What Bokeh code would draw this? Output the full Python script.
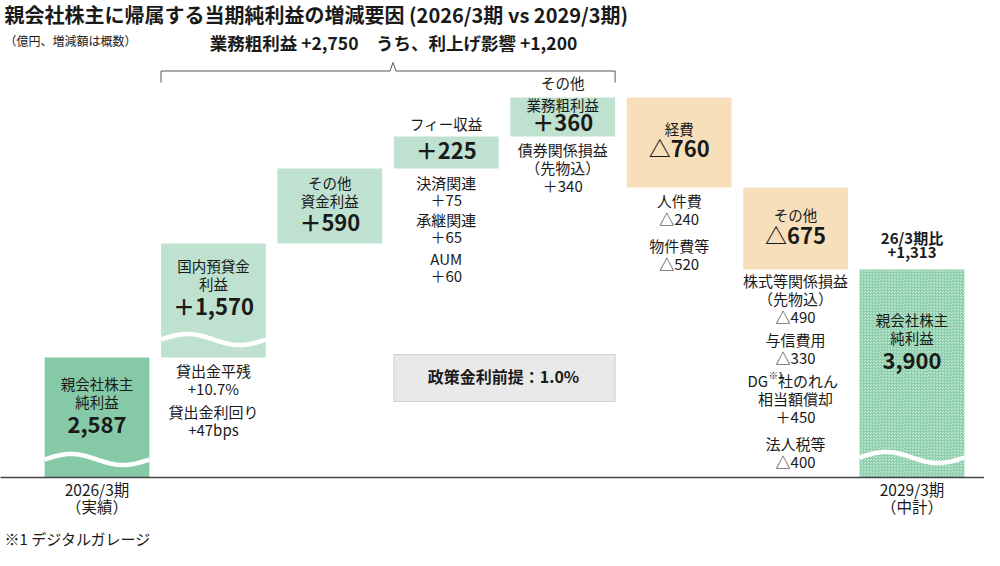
import numpy as np
from bokeh.plotting import figure
from bokeh.models import Range1d, ColumnDataSource
from bokeh.core.properties import value
from bokeh.embed import file_html
from bokeh.resources import INLINE

FONT = value("Noto Sans CJK JP")

# ---------------- data ----------------
categories = ["2026/3期（実績）", "国内預貸金利益", "その他資金利益", "フィー収益",
              "その他業務粗利益", "経費", "その他", "2029/3期（中計）"]
kinds = ["total", "up", "up", "up", "up", "down", "down", "total"]
values = [2587, 1570, 590, 225, 360, -760, -675, 3900]
# heights as drawn in the reference (broken axis, not to scale)
drawn_heights = [120, 114, 75, 32, 39, -90, -82, 208]
value_labels = ["2,587", "＋1,570", "＋590", "＋225", "＋360", "△760", "△675", "3,900"]
name_lines = [["親会社株主", "純利益"], ["国内預貸金", "利益"], ["その他", "資金利益"], [],
              ["業務粗利益"], ["経費"], ["その他"], ["親会社株主", "純利益"]]
above_lines = [[], [], [], ["フィー収益"], ["その他"], [], [], ["26/3期比", "+1,313"]]
detail_groups = [
    [],
    [["貸出金平残", "+10.7%"], ["貸出金利回り", "+47bps"]],
    [],
    [["決済関連", "＋75"], ["承継関連", "＋65"], ["AUM", "＋60"]],
    [["債券関係損益", "（先物込）", "＋340"]],
    [["人件費", "△240"], ["物件費等", "△520"]],
    [["株式等関係損益", "（先物込）", "△490"], ["与信費用", "△330"],
     ["DG※1社のれん", "相当額償却", "＋450"], ["法人税等", "△400"]],
    [],
]
x_labels = {0: ["2026/3期", "（実績）"], 7: ["2029/3期", "（中計）"]}
title = "親会社株主に帰属する当期純利益の増減要因 (2026/3期 vs 2029/3期)"
unit_note = "（億円、増減額は概数）"
gross_profit_note = "業務粗利益 +2,750　うち、利上げ影響 +1,200"
policy_note = "政策金利前提：1.0%"
footnote = "※1 デジタルガレージ"

# ---------------- layout helpers ----------------
X0, STEP = 96.5, 116.43
def ux(px):
    return (px - X0) / STEP

TEXT_DY = 3.5   # compensates the CJK font's 'middle' baseline
W = 0.9
idx = list(range(len(categories)))
bottoms, tops = [], []
level = 0
for k, h in zip(kinds, drawn_heights):
    if k == "total":
        b, t = 0, h
    else:
        b, t = level, level + h
    bottoms.append(min(b, t)); tops.append(max(b, t))
    level = t

colors = []
for i, k in enumerate(kinds):
    if k == "total":
        colors.append("#86c9a6" if i == 0 else "#cdeadb")
    elif k == "up":
        colors.append("#bee2cf")
    else:
        colors.append("#f8dfbb")

p = figure(width=984, height=550, x_range=Range1d(ux(0), ux(984)),
           y_range=Range1d(-73, 477), output_backend="svg", toolbar_location=None,
           x_axis_location=None, y_axis_location=None, min_border=0)
p.grid.visible = False
p.outline_line_color = None
p.background_fill_color = "white"
p.border_fill_color = "white"

plain = [i for i in idx if i != 7]
src = ColumnDataSource(dict(x=[idx[i] for i in plain], b=[bottoms[i] for i in plain],
                            t=[tops[i] for i in plain], c=[colors[i] for i in plain]))
p.vbar(x="x", width=W, bottom="b", top="t", fill_color="c", line_color=None, source=src)
p.vbar(x=[7], width=W, bottom=[bottoms[7]], top=[tops[7]], fill_color=colors[7],
       line_color=None, hatch_pattern="criss_cross", hatch_scale=3, hatch_weight=1,
       hatch_color="#8fd0ac")

# wavy break marks
tt = np.linspace(0, 1, 60)
for i, c in [(0, 18), (1, 18), (7, 20)]:
    p.line(i - W / 2 + W * tt, bottoms[i] + c + 5.5 * np.sin(2 * np.pi * tt),
           line_color="white", line_width=4.5)

# baseline
p.line([ux(-20), ux(1020)], [0, 0], line_color="#444444", line_width=1.3)

# bracket above gross-profit items
br_y = tops[4] + 26.5
L, R = 1 - W / 2, 4 + W / 2
pk = ux(392.5)
p.line([L, L, pk - 3 / STEP, pk, pk + 3 / STEP, R, R],
       [br_y - 11.5, br_y, br_y, br_y + 8.5, br_y, br_y, br_y - 11.5],
       line_color="#555555", line_width=1)

# policy box
p.quad(left=[3 - W / 2], right=[4 + W / 2], bottom=[76], top=[123],
       fill_color="#e9e9e9", line_color="#cfcfcf", line_width=1)

texts = {"x": [], "y": [], "t": [], "size": [], "style": [], "align": []}
def add(x, y, t, size="15px", style="normal", align="center", dy=TEXT_DY):
    texts["x"].append(x); texts["y"].append(y + dy); texts["t"].append(t)
    texts["size"].append(size); texts["style"].append(style); texts["align"].append(align)

name_off = {0: [-29, -47], 1: [-25, -43], 2: [-17, -35], 4: [-10], 5: [-34], 6: [-30], 7: [-53, -71]}
val_off = {0: -70, 1: -65, 2: -56, 3: -16, 4: -27, 5: -53, 6: -50, 7: -94}
above_off = {3: [10], 4: [12], 7: [29, 14]}
det_first = {1: 16, 3: 17, 4: 16, 5: 16, 6: 14}
det_step = {1: 18, 3: 17, 4: 18, 5: 18, 6: 18}
det_gap = {1: [23], 3: [20, 22], 4: [], 5: [27], 6: [23, 23, 27]}

for i in idx:
    for line, off in zip(name_lines[i], name_off.get(i, [])):
        add(i, tops[i] + off, line, "14.5px")
    add(i, tops[i] + val_off[i], value_labels[i], "22px", "bold")
    for line, off in zip(above_lines[i], above_off.get(i, [])):
        if i == 7:
            add(i, tops[i] + off, line, "15px", "bold")
        else:
            add(i, tops[i] + off, line, "14.5px")
    y = bottoms[i] - det_first.get(i, 0)
    for g, group in enumerate(detail_groups[i]):
        if g > 0:
            y -= det_gap[i][g - 1]
        for n, line in enumerate(group):
            if n > 0:
                y -= det_step[i]
            if "※1" in line:
                a, rest = line.split("※1")
                add(i - 0.236, y, a, align="right")
                add(i - 0.232, y + 5, "※1", "9.5px", align="left")
                add(i - 0.152, y, rest, align="left")
            else:
                add(i, y, line)

for i, lines in x_labels.items():
    add(i, -15, lines[0], "15.5px")
    add(i, -32, lines[1], "15.5px")

add(ux(4), 463, title, "20px", "bold", "left", dy=0)
add(ux(4), 434, unit_note, "12px", "normal", "left")
add(ux(393), 432, gross_profit_note, "17.5px", "bold")
add(ux(503), 98.5, policy_note, "16px", "bold")
add(ux(4), -64, footnote, "15px", "normal", "left")

for style in ["normal", "bold"]:
    for align in ["center", "left", "right"]:
        sel = [k for k in range(len(texts["t"])) if texts["style"][k] == style and texts["align"][k] == align]
        if not sel:
            continue
        sizes = sorted(set(texts["size"][k] for k in sel))
        for s in sizes:
            ks = [k for k in sel if texts["size"][k] == s]
            p.text(x=[texts["x"][k] for k in ks], y=[texts["y"][k] for k in ks],
                   text=[texts["t"][k] for k in ks], text_font=FONT, text_font_size=s,
                   text_font_style=style, text_align=align, text_baseline="middle",
                   text_color="#1a1a1a")

open("out.html", "w").write(file_html(p, INLINE))
